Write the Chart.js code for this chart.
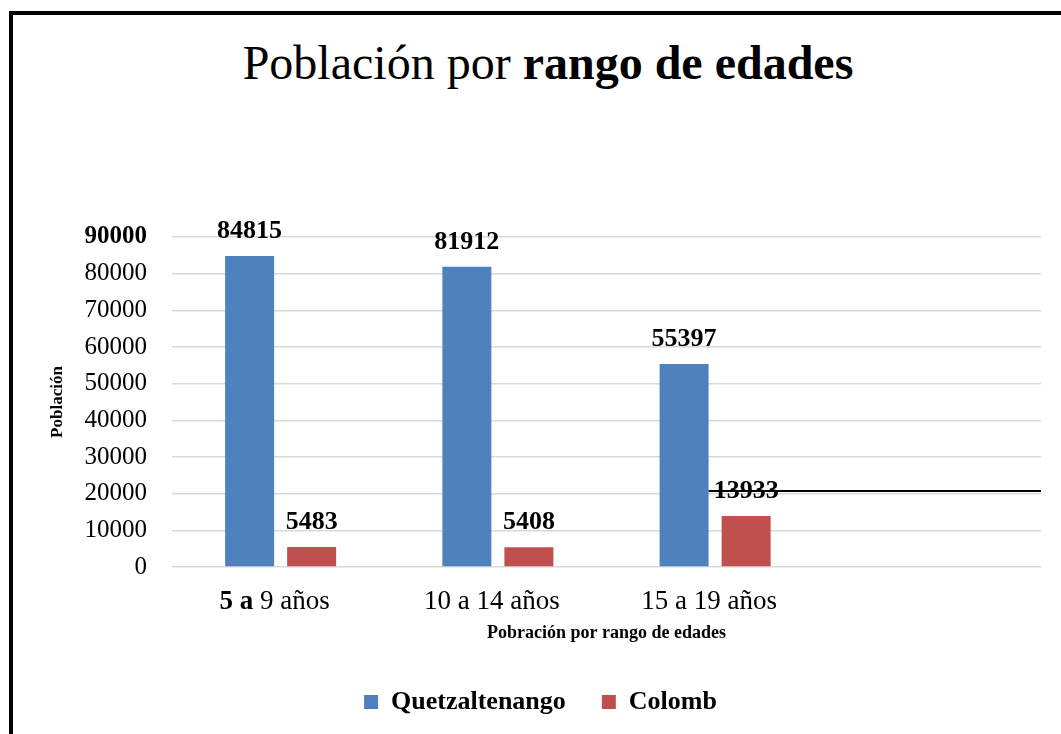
<!DOCTYPE html>
<html lang="es">
<head>
    <meta charset="UTF-8">
    <title>Población por rango de edades</title>
    <script src="https://cdn.jsdelivr.net/npm/chart.js"></script>
    <style>
        body {
            margin: 0;
            width: 1061px;
            height: 734px;
            overflow: hidden;
            background: #fff;
            font-family: "Liberation Serif", "Times New Roman", serif;
            position: relative;
        }
        .frame {
            position: absolute;
            left: 9px;
            top: 11px;
            width: 1200px;
            height: 900px;
            border-left: 4px solid #000;
            border-top: 4px solid #000;
        }
        .title {
            position: absolute;
            left: 35px;
            width: 1026px;
            top: 39px;
            height: 48px;
            line-height: 48px;
            font-size: 48px;
            text-align: center;
            color: #000;
            white-space: nowrap;
        }
        #chart {
            position: absolute;
            left: 0;
            top: 0;
        }
    </style>
</head>
<body>
    <div class="frame"></div>
    <div class="title">Población por <b>rango de edades</b></div>
    <canvas id="chart" width="1061" height="734"></canvas>

    <script>
        // chart data
        const categories = ['5 a 9 años', '10 a 14 años', '15 a 19 años', ''];
        const quetzaltenango = [84815, 81912, 55397, null];
        const colomb = [5483, 5408, 13933, null];
        const yTicks = [0, 10000, 20000, 30000, 40000, 50000, 60000, 70000, 80000, 90000];
        const refLineValue = 20700;   // the stray black line on the right

        const serif = '"Liberation Serif", "Times New Roman", serif';

        // value labels over each bar
        const valueLabels = {
            id: 'valueLabels',
            afterDatasetsDraw(chart) {
                const ctx = chart.ctx;
                ctx.save();
                ctx.font = 'bold 26px ' + serif;
                ctx.fillStyle = '#000';
                ctx.textAlign = 'center';
                ctx.textBaseline = 'alphabetic';
                chart.data.datasets.forEach((ds, i) => {
                    chart.getDatasetMeta(i).data.forEach((bar, j) => {
                        if (ds.data[j] == null) return;
                        ctx.fillText(ds.data[j], bar.x, bar.y - 18);
                    });
                });
                ctx.restore();
            }
        };

        // black horizontal line from the third blue bar to the right edge
        const refLine = {
            id: 'refLine',
            afterDatasetsDraw(chart) {
                const ctx = chart.ctx;
                const bar = chart.getDatasetMeta(0).data[2];
                const y = chart.scales.y.getPixelForValue(refLineValue);
                ctx.save();
                ctx.strokeStyle = '#000';
                ctx.lineWidth = 2;
                ctx.beginPath();
                ctx.moveTo(bar.x + bar.width / 2, y);
                ctx.lineTo(chart.chartArea.right, y);
                ctx.stroke();
                ctx.restore();
            }
        };

        // category labels (first one has "5 a" in bold)
        const xLabels = {
            id: 'xLabels',
            afterDraw(chart) {
                const ctx = chart.ctx;
                const xs = chart.scales.x;
                const y = chart.chartArea.bottom + 35;
                ctx.save();
                ctx.fillStyle = '#000';
                ctx.textBaseline = 'middle';
                ctx.textAlign = 'left';
                categories.forEach((label, i) => {
                    if (!label) return;
                    const cx = xs.getPixelForTick(i) - 6;
                    const parts = i === 0 ? [['bold', '5 a'], ['normal', ' 9 años']] : [['normal', label]];
                    let total = 0;
                    parts.forEach(p => {
                        ctx.font = p[0] + ' 27px ' + serif;
                        total += ctx.measureText(p[1]).width;
                    });
                    let x = cx - total / 2;
                    parts.forEach(p => {
                        ctx.font = p[0] + ' 27px ' + serif;
                        ctx.fillText(p[1], x, y);
                        x += ctx.measureText(p[1]).width;
                    });
                });
                ctx.restore();
            }
        };

        const chart = new Chart(document.getElementById('chart'), {
            type: 'bar',
            data: {
                labels: categories,
                datasets: [{
                    label: 'Quetzaltenango',
                    data: quetzaltenango,
                    backgroundColor: '#4F81BD',
                    categoryPercentage: 0.571,
                    barPercentage: 0.79
                }, {
                    label: 'Colomb',
                    data: colomb,
                    backgroundColor: '#C0504D',
                    categoryPercentage: 0.571,
                    barPercentage: 0.79
                }]
            },
            options: {
                responsive: false,
                animation: false,
                layout: {
                    padding: { top: 237, left: 40, right: 20, bottom: 9 }
                },
                plugins: {
                    title: { display: false },
                    tooltip: { enabled: false },
                    legend: {
                        position: 'bottom',
                        labels: {
                            boxWidth: 14,
                            boxHeight: 14,
                            padding: 36,
                            color: '#000',
                            font: { family: serif, size: 26, weight: 'bold' }
                        }
                    }
                },
                scales: {
                    x: {
                        grid: { display: false, drawTicks: false },
                        border: { display: false },
                        ticks: { color: 'rgba(0,0,0,0)', font: { family: serif, size: 22 } },
                        title: {
                            display: true,
                            text: 'Pobración por rango de edades',
                            color: '#000',
                            font: { family: serif, size: 18, weight: 'bold' },
                            padding: { top: 0, bottom: 9 }
                        },
                        afterFit(scale) { scale.height = 86; }
                    },
                    y: {
                        min: 0,
                        max: 90000,
                        afterBuildTicks(scale) {
                            scale.ticks = yTicks.map(v => ({ value: v }));
                        },
                        grid: { color: '#d9d9d9', lineWidth: 1.5, drawTicks: false },
                        border: { display: false },
                        ticks: {
                            padding: 25,
                            color: '#000',
                            callback: v => String(v),
                            font: ctx => ({
                                family: serif,
                                size: 25,
                                weight: ctx.tick && ctx.tick.value === 90000 ? 'bold' : 'normal'
                            })
                        },
                        title: {
                            display: true,
                            text: 'Población',
                            color: '#000',
                            font: { family: serif, size: 17, weight: 'bold' },
                            padding: { top: 7, bottom: 0 }
                        },
                        afterFit(scale) { scale.width = 132; }
                    }
                }
            },
            plugins: [valueLabels, refLine, xLabels]
        });
    </script>
</body>
</html>
